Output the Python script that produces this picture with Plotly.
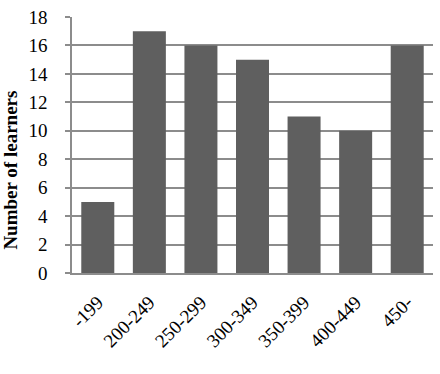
import plotly.graph_objects as go

categories = ["-199", "200-249", "250-299", "300-349", "350-399", "400-449", "450-"]
learners = [5, 17, 16, 15, 11, 10, 16]
y_ticks = [0, 2, 4, 6, 8, 10, 12, 14, 16, 18]
y_title = "Number of learners"

fig = go.Figure(go.Bar(x=categories, y=learners, marker=dict(color="#5f5f5f", line=dict(width=0))))

fig.update_layout(
    width=440, height=374,
    margin=dict(l=72, r=7, t=11, b=101),
    plot_bgcolor="white", paper_bgcolor="white",
    bargap=0.36,
    showlegend=False,
    font=dict(family="Liberation Serif", size=19, color="black"),
)
fig.update_xaxes(
    showline=True, linecolor="#8c8c8c", linewidth=1.5,
    tickangle=-45, ticks="", showgrid=False,
    tickfont=dict(family="Liberation Serif", size=19),
    ticklabelstandoff=9,
)
fig.update_yaxes(
    range=[0, 18], tickvals=y_ticks,
    showgrid=True, gridcolor="#8c8c8c", gridwidth=1.5,
    showline=True, linecolor="#8c8c8c", linewidth=1.5,
    ticks="outside", ticklen=5, tickcolor="#8c8c8c", tickwidth=1.5,
    ticklabelstandoff=14, ticklabeloverflow="allow",
    tickfont=dict(family="Liberation Serif", size=19),
    zeroline=False,
)
fig.add_annotation(
    text="<b>" + y_title + "</b>", textangle=-90,
    xref="paper", yref="paper", x=0, y=0.40,
    xanchor="center", yanchor="middle", xshift=-61,
    showarrow=False,
    font=dict(family="Liberation Serif", size=19, color="black"),
)

fig.write_html("out.html")
